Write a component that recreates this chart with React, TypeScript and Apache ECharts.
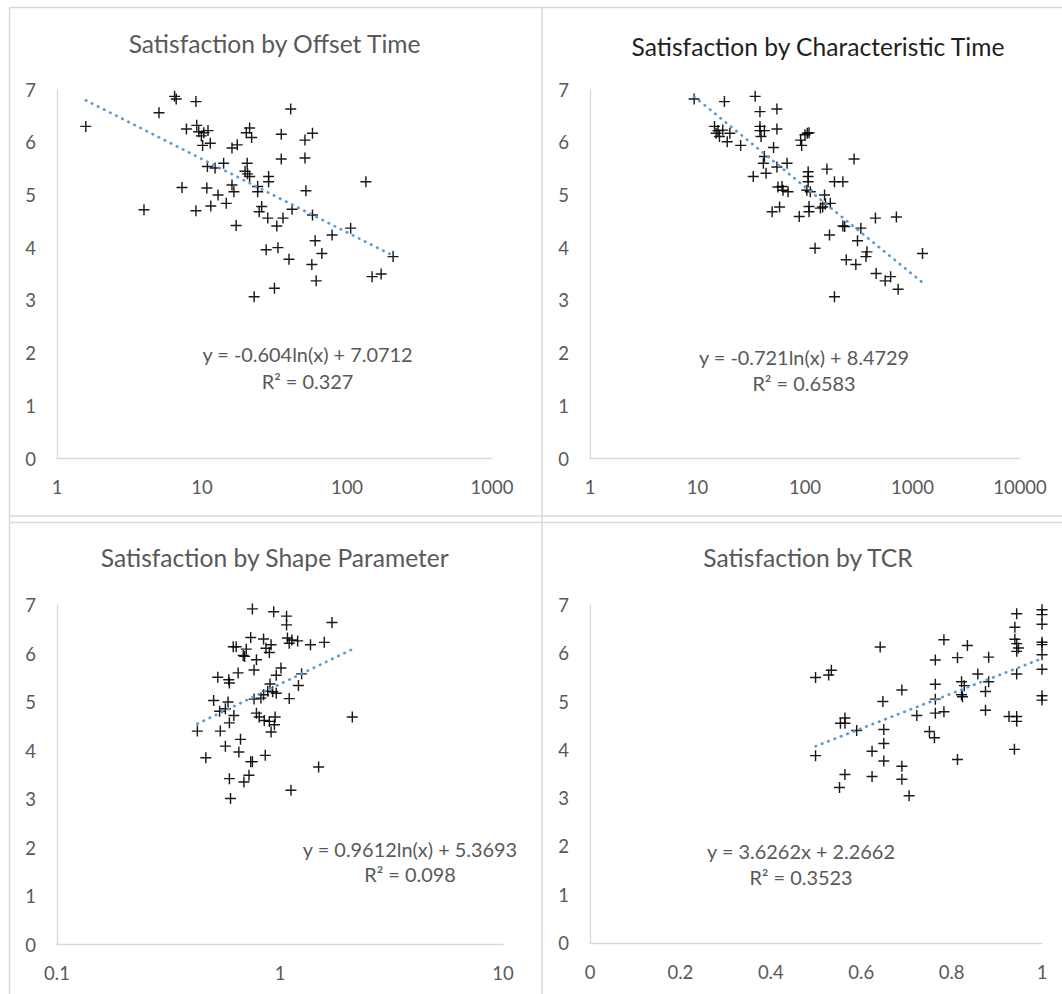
import React, { useEffect, useRef } from "react";
import * as echarts from "echarts";

// ---------- Data ----------
// Panel 1: Satisfaction by Offset Time (log x)
const offsetTime = [1.58, 3.98, 5.05, 6.47, 6.64, 9.08, 7.28, 7.81, 9.2, 9.5, 9.9, 10.3, 11.0, 10.1, 11.4, 9.08, 10.8, 10.9, 12.3, 12.9, 11.5, 14.1, 14.7, 16.1, 17.5, 16.1, 16.6, 17.2, 20.2, 21.3, 22.0, 20.5, 19.8, 20.6, 21.3, 24.2, 24.2, 28.8, 28.8, 25.8, 24.8, 28.4, 32.8, 36.2, 41.8, 35.2, 35.2, 40.9, 51.3, 57.8, 51.3, 52.1, 57.8, 27.7, 33.4, 39.8, 60.3, 67.1, 57.2, 61.3, 31.6, 22.9, 78.9, 106, 135, 149, 172, 208];
const offsetSat = [6.30, 4.72, 6.56, 6.87, 6.82, 6.77, 5.14, 6.25, 6.32, 6.20, 6.12, 6.18, 6.22, 5.94, 5.98, 4.70, 5.13, 5.54, 5.51, 5.00, 4.79, 5.60, 4.84, 5.89, 5.95, 5.19, 5.06, 4.42, 6.18, 6.27, 6.09, 5.60, 5.45, 5.40, 5.35, 5.16, 5.06, 5.35, 5.25, 4.78, 4.68, 4.56, 4.41, 4.56, 4.73, 6.15, 5.68, 6.63, 6.04, 6.17, 5.70, 5.08, 4.62, 3.96, 4.00, 3.78, 4.13, 3.89, 3.68, 3.37, 3.23, 3.07, 4.24, 4.37, 5.25, 3.45, 3.50, 3.83];

// Panel 2: Satisfaction by Characteristic Time (log x)
const charTime = [9.3, 17.8, 34.4, 38.1, 54.8, 14.4, 15.5, 17.2, 14.9, 16.0, 20.0, 18.9, 25.2, 38.1, 38.1, 41.9, 39.0, 54.8, 51.0, 41.9, 41.0, 43.4, 33.0, 68.1, 54.8, 56.0, 61.1, 62.4, 69.6, 49.5, 58.0, 88.4, 91.0, 93.1, 105, 109, 100, 107, 107, 107, 104, 112, 109, 109, 139, 146, 155, 172, 152, 160, 188, 225, 286, 225, 234, 331, 452, 708, 169, 124, 308, 377, 369, 242, 297, 459, 557, 626, 735, 188, 1239];
const charSat = [6.82, 6.77, 6.87, 6.58, 6.63, 6.30, 6.22, 6.23, 6.17, 6.11, 6.17, 6.01, 5.94, 6.30, 6.22, 6.22, 6.11, 6.25, 5.90, 5.73, 5.60, 5.41, 5.35, 5.60, 5.53, 5.15, 5.16, 5.09, 5.06, 4.68, 4.77, 4.59, 6.04, 5.94, 6.17, 6.18, 6.14, 5.44, 5.35, 5.25, 5.09, 5.06, 4.78, 4.68, 4.75, 4.77, 4.83, 4.84, 5.00, 5.49, 5.25, 5.25, 5.68, 4.41, 4.40, 4.37, 4.56, 4.58, 4.24, 3.99, 4.13, 3.92, 3.83, 3.77, 3.68, 3.51, 3.37, 3.45, 3.21, 3.07, 3.89];

// Panel 3: Satisfaction by Shape Parameter (log x)
const shapeParam = [0.752, 0.937, 1.07, 1.07, 1.71, 0.739, 0.844, 0.912, 1.08, 1.13, 1.20, 1.10, 1.37, 1.58, 0.617, 0.636, 0.706, 0.684, 0.694, 0.784, 0.865, 0.896, 0.765, 1.01, 0.962, 0.649, 0.526, 0.589, 0.593, 1.25, 1.21, 0.902, 0.881, 0.844, 0.821, 0.927, 0.962, 0.765, 1.10, 0.504, 0.585, 0.536, 0.569, 0.621, 0.593, 0.784, 0.807, 0.850, 0.896, 0.951, 0.944, 0.912, 0.426, 0.540, 2.11, 0.665, 0.569, 0.654, 0.739, 0.752, 0.859, 0.465, 1.49, 0.726, 0.593, 0.689, 1.12, 0.600];
const shapeSat = [6.92, 6.86, 6.77, 6.59, 6.64, 6.33, 6.30, 6.18, 6.32, 6.28, 6.26, 6.21, 6.18, 6.23, 6.14, 6.14, 6.09, 5.96, 5.94, 5.87, 6.11, 6.02, 5.66, 5.70, 5.55, 5.60, 5.51, 5.46, 5.39, 5.58, 5.34, 5.37, 5.22, 5.15, 5.08, 5.21, 5.18, 5.06, 5.07, 5.03, 5.00, 4.81, 4.86, 4.72, 4.57, 4.77, 4.69, 4.62, 4.60, 4.69, 4.53, 4.38, 4.40, 4.40, 4.69, 4.23, 4.09, 3.97, 3.77, 3.77, 3.90, 3.85, 3.66, 3.49, 3.42, 3.35, 3.18, 3.01];

// Panel 4: Satisfaction by TCR (linear x)
const tcr = [0.499, 0.528, 0.534, 0.642, 0.648, 0.690, 0.723, 0.764, 0.764, 0.764, 0.764, 0.783, 0.783, 0.813, 0.835, 0.882, 0.858, 0.822, 0.828, 0.822, 0.824, 0.882, 0.875, 0.875, 0.813, 0.751, 0.762, 0.650, 0.650, 0.650, 0.624, 0.624, 0.590, 0.554, 0.564, 0.564, 0.499, 0.564, 0.552, 0.690, 0.690, 0.706, 0.927, 0.944, 0.944, 0.939, 0.944, 0.940, 0.940, 0.944, 0.948, 0.944, 0.944, 1, 1, 1, 1, 1, 1, 1, 1, 1];
const tcrSat = [5.50, 5.55, 5.65, 6.13, 5.00, 5.24, 4.71, 5.86, 5.36, 5.05, 4.76, 4.79, 6.28, 5.91, 6.16, 5.92, 5.57, 5.41, 5.33, 5.14, 5.10, 5.41, 5.21, 4.82, 3.80, 4.38, 4.25, 4.42, 4.13, 3.77, 3.97, 3.45, 4.40, 4.55, 4.66, 4.55, 3.88, 3.49, 3.22, 3.66, 3.39, 3.05, 4.69, 4.69, 4.59, 4.01, 6.82, 6.54, 6.29, 6.20, 6.11, 6.04, 5.57, 6.90, 6.80, 6.60, 6.23, 6.18, 5.97, 5.67, 5.12, 5.03];

// Titles, trendline coefficients and labels
const titles = [
  "Satisfaction by Offset Time",
  "Satisfaction by Characteristic Time",
  "Satisfaction by Shape Parameter",
  "Satisfaction by TCR",
];
// trend: kind "log" => y = a*ln(x) + b ; kind "lin" => y = a*x + b
const trends = [
  { kind: "log", a: -0.604, b: 7.0712, eq: "y = -0.604ln(x) + 7.0712", r2: "R\u00B2 = 0.327" },
  { kind: "log", a: -0.721, b: 8.4729, eq: "y = -0.721ln(x) + 8.4729", r2: "R\u00B2 = 0.6583" },
  { kind: "log", a: 0.9612, b: 5.3693, eq: "y = 0.9612ln(x) + 5.3693", r2: "R\u00B2 = 0.098" },
  { kind: "lin", a: 3.6262, b: 2.2662, eq: "y = 3.6262x + 2.2662", r2: "R\u00B2 = 0.3523" },
];
const xRanges = [
  { type: "log", min: 1, max: 1000 },
  { type: "log", min: 1, max: 10000 },
  { type: "log", min: 0.1, max: 10 },
  { type: "value", min: 0, max: 1, interval: 0.2 },
];
const yRange = { min: 0, max: 7, interval: 1 };

const panelsX = [offsetTime, charTime, shapeParam, tcr];
const panelsY = [offsetSat, charSat, shapeSat, tcrSat];

// ---------- Layout (pixels) ----------
const grids = [
  { left: 57, top: 89.5, width: 435, height: 369 },
  { left: 590, top: 89.5, width: 430, height: 369 },
  { left: 57, top: 605, width: 446, height: 339.5 },
  { left: 590, top: 605, width: 452, height: 338 },
];
const titlePos = [
  { x: 274.6, y: 43, color: "#595959" },
  { x: 818, y: 46, color: "#1f1f1f" },
  { x: 274.8, y: 557.7, color: "#595959" },
  { x: 808, y: 557.7, color: "#595959" },
];
const eqPos = [
  { x: 307.5, y1: 354, y2: 381 },
  { x: 804, y1: 357, y2: 383 },
  { x: 410, y1: 849, y2: 874 },
  { x: 801, y1: 851, y2: 877 },
];

const FONT = "Lato";
const GRAY = "#595959";
const FRAME = "#d9d9d9";
const CROSS = "path://M0,4.35H10V5.65H0Z M4.35,0H5.65V10H4.35Z";

function fmt(v: number) {
  return String(+Number(v).toPrecision(6));
}

export default function App() {
  const ref = useRef<HTMLDivElement>(null);
  useEffect(() => {
    if (!ref.current) return;
    const chart = echarts.init(ref.current, undefined, { renderer: "svg" });

    const axisCommon = {
      axisLine: { show: true, onZero: false, lineStyle: { color: FRAME, width: 1.3 } },
      axisTick: { show: false },
      splitLine: { show: false },
    };

    const xAxis = xRanges.map((r, i) => ({
      gridIndex: i,
      type: r.type,
      logBase: 10,
      min: r.min,
      max: r.max,
      ...(r.interval ? { interval: r.interval } : {}),
      ...axisCommon,
      axisLabel: { color: GRAY, fontFamily: FONT, fontSize: 18.5, margin: 19, formatter: (v: number) => fmt(v) },
    }));
    const yAxis = grids.map((_, i) => ({
      gridIndex: i,
      type: "value",
      min: yRange.min,
      max: yRange.max,
      interval: yRange.interval,
      ...axisCommon,
      axisLabel: { color: GRAY, fontFamily: FONT, fontSize: 18.5, margin: 21 },
    }));

    const series: any[] = [];
    panelsX.forEach((xs, i) => {
      series.push({
        type: "scatter",
        xAxisIndex: i,
        yAxisIndex: i,
        symbol: CROSS,
        symbolSize: 11,
        itemStyle: { color: "#000000", opacity: 0.9 },
        data: xs.map((x, k) => [x, panelsY[i][k]]),
        z: 2,
      });
      const t = trends[i];
      const x0 = Math.min(...xs);
      const x1 = Math.max(...xs);
      const f = (x: number) => (t.kind === "log" ? t.a * Math.log(x) + t.b : t.a * x + t.b);
      series.push({
        type: "line",
        xAxisIndex: i,
        yAxisIndex: i,
        symbol: "none",
        showSymbol: false,
        silent: true,
        data: [
          [x0, f(x0)],
          [x1, f(x1)],
        ],
        lineStyle: { color: "#5B9BD5", width: 2.7, type: [0.5, 6.3], cap: "round" },
        z: 3,
      });
    });

    const graphic: any[] = [];
    const frameLine = (x1: number, y1: number, x2: number, y2: number) => ({
      type: "line",
      shape: { x1, y1, x2, y2 },
      style: { stroke: FRAME, lineWidth: 1.5 },
      silent: true,
    });
    graphic.push(frameLine(9, 7.5, 1062, 7.5));
    graphic.push(frameLine(9.5, 7, 9.5, 994));
    graphic.push(frameLine(542, 7, 542, 994));
    graphic.push(frameLine(9, 516, 1062, 516));
    graphic.push(frameLine(9, 522.5, 1062, 522.5));

    titles.forEach((t, i) => {
      graphic.push({
        type: "text",
        x: titlePos[i].x,
        y: titlePos[i].y,
        silent: true,
        style: {
          text: t,
          fill: titlePos[i].color,
          fontFamily: FONT,
          fontSize: 24.6,
          align: "center",
          verticalAlign: "middle",
        },
      });
    });
    trends.forEach((t, i) => {
      [t.eq, t.r2].forEach((s, j) => {
        graphic.push({
          type: "text",
          x: eqPos[i].x,
          y: j === 0 ? eqPos[i].y1 : eqPos[i].y2,
          silent: true,
          style: {
            text: s,
            fill: GRAY,
            fontFamily: FONT,
            fontSize: 19.9,
            align: "center",
            verticalAlign: "middle",
          },
        });
      });
    });

    chart.setOption({
      animation: false,
      backgroundColor: "#ffffff",
      grid: grids.map((g) => ({ ...g, containLabel: false })),
      xAxis,
      yAxis,
      series,
      graphic,
    });
    return () => chart.dispose();
  }, []);

  return (
    <div
      ref={ref}
      style={{ position: "absolute", left: 0, top: 0, width: 1062, height: 994, background: "#fff" }}
    />
  );
}
